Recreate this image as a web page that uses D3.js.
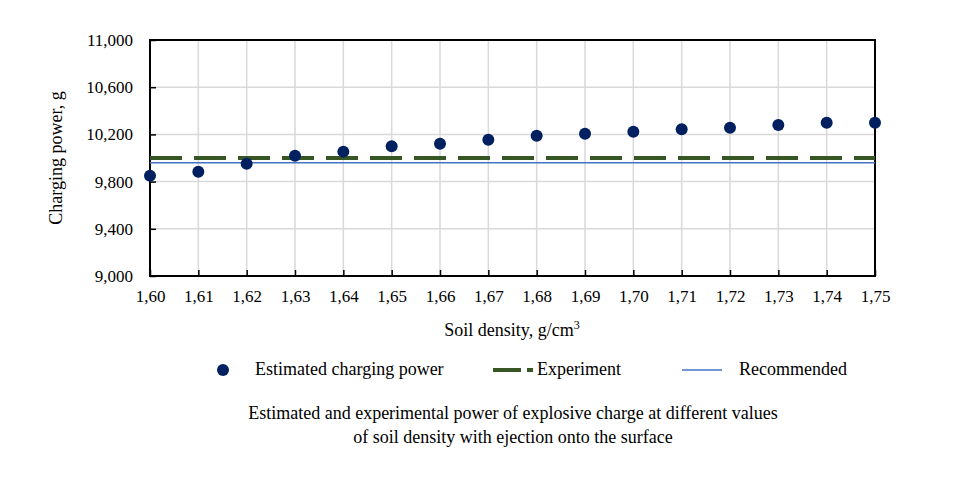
<!DOCTYPE html>
<html><head><meta charset="utf-8">
<script src="https://cdn.jsdelivr.net/npm/d3@7"></script>
<style>body{margin:0;background:#fff}svg{display:block;font-family:"Times New Roman","Liberation Serif",serif}</style>
</head><body><svg id="c" width="968" height="478"></svg>
<script>
const densities = ["1,60","1,61","1,62","1,63","1,64","1,65","1,66","1,67","1,68","1,69","1,70","1,71","1,72","1,73","1,74","1,75"];
const estimated = [9850,9884,9952,10020,10054,10099,10121,10155,10189,10206,10223,10243,10257,10280,10299,10299];
const experiment = 10000;
const recommended = 9960;
const yTicks = [9000,9400,9800,10200,10600,11000];

const FF = '"Times New Roman","Liberation Serif",serif';
const svg = d3.select("#c");
const L=150,R=875,T=40,B=276;
const x = d3.scalePoint().domain(densities).range([L,R]);
const y = d3.scaleLinear().domain([9000,11000]).range([B,T]);
const fmt = d3.format(",");

// grid
svg.append("g").selectAll("line").data(yTicks.slice(1,-1)).join("line")
  .attr("x1",L).attr("x2",R).attr("y1",d=>y(d)).attr("y2",d=>y(d))
  .attr("stroke","#d9d9d9").attr("stroke-width",1.5);
svg.append("g").selectAll("line").data(densities.slice(1,-1)).join("line")
  .attr("x1",d=>x(d)).attr("x2",d=>x(d)).attr("y1",T).attr("y2",B)
  .attr("stroke","#d9d9d9").attr("stroke-width",1.5);

// axes
const ya = svg.append("g").attr("transform",`translate(${L},0)`)
  .call(d3.axisLeft(y).tickValues(yTicks).tickFormat(fmt).tickSizeInner(-6).tickSizeOuter(0).tickPadding(17));
const xa = svg.append("g").attr("transform",`translate(0,${B})`)
  .call(d3.axisBottom(x).tickSizeInner(-6).tickSizeOuter(0).tickPadding(14));
[ya,xa].forEach(a=>{
  a.select(".domain").remove();
  a.selectAll("line").attr("stroke","#000").attr("stroke-width",1.5);
  a.selectAll("text").attr("font-size",17).attr("fill","#000").attr("font-family",FF);
});
xa.selectAll("text").attr("dy","0.71em");

// frame
svg.append("rect").attr("x",L).attr("y",T).attr("width",R-L).attr("height",B-T)
  .attr("fill","none").attr("stroke","#000").attr("stroke-width",2);

// experiment line
svg.append("line").attr("x1",L).attr("x2",R).attr("y1",y(experiment)).attr("y2",y(experiment))
  .attr("stroke","#375623").attr("stroke-width",4).attr("stroke-dasharray","32,12");
// recommended
svg.append("line").attr("x1",L).attr("x2",R).attr("y1",y(recommended)).attr("y2",y(recommended))
  .attr("stroke","#4472c4").attr("stroke-width",1.5);

// points
svg.append("g").selectAll("circle").data(estimated).join("circle")
  .attr("cx",(d,i)=>x(densities[i])).attr("cy",d=>y(d)).attr("r",6).attr("fill","#002060");

// axis titles
svg.append("text").attr("transform",`translate(62,${(T+B)/2}) rotate(-90)`).attr("text-anchor","middle")
  .attr("font-size",18).text("Charging power, g");
const xt = svg.append("text").attr("x",512).attr("y",336).attr("text-anchor","middle").attr("font-size",18);
xt.append("tspan").text("Soil density, g/cm");
xt.append("tspan").attr("dy",-7).attr("font-size",12).text("3");

// legend
const ly=370;
svg.append("circle").attr("cx",223).attr("cy",ly).attr("r",6).attr("fill","#002060");
svg.append("text").attr("x",255).attr("y",ly+5).attr("font-size",18).text("Estimated charging power");
svg.append("line").attr("x1",493).attr("x2",521).attr("y1",ly).attr("y2",ly).attr("stroke","#375623").attr("stroke-width",4);
svg.append("line").attr("x1",527).attr("x2",533).attr("y1",ly).attr("y2",ly).attr("stroke","#375623").attr("stroke-width",4);
svg.append("text").attr("x",537).attr("y",ly+5).attr("font-size",18).text("Experiment");
svg.append("line").attr("x1",682).attr("x2",722).attr("y1",ly).attr("y2",ly).attr("stroke","#4472c4").attr("stroke-width",1.5);
svg.append("text").attr("x",739).attr("y",ly+5).attr("font-size",18).text("Recommended");

// caption
svg.append("text").attr("x",513).attr("y",419).attr("text-anchor","middle").attr("font-size",18)
  .text("Estimated and experimental power of explosive charge at different values");
svg.append("text").attr("x",513).attr("y",443).attr("text-anchor","middle").attr("font-size",18)
  .text("of soil density with ejection onto the surface");
</script></body></html>
